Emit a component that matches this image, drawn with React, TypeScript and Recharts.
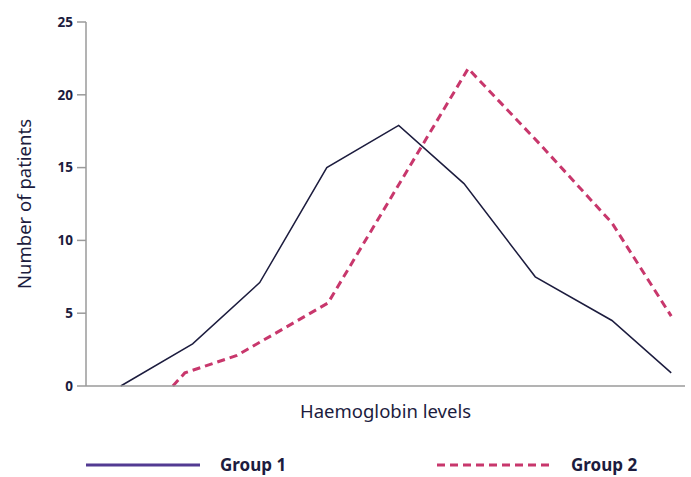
import React from "react";
import { LineChart, Line, XAxis, YAxis } from "recharts";

// x = position along the haemoglobin scale (0-100), y = number of patients
const group1X = [5.8, 17.8, 29, 40.2, 52.2, 63.1, 75, 87.8, 97.7];
const group1Y = [0, 2.9, 7.1, 15, 17.9, 13.9, 7.5, 4.5, 0.9];

const group2X = [14.5, 16.5, 25.2, 40.4, 63.8, 75.8, 87.8, 97.7];
const group2Y = [0, 0.9, 2.1, 5.7, 21.8, 16.6, 11.2, 4.8];

const yTicks = [0, 5, 10, 15, 20, 25];

const group1 = group1X.map((x, i) => ({ x, y: group1Y[i] }));
const group2 = group2X.map((x, i) => ({ x, y: group2Y[i] }));

const NAVY = "#1c1c3e";
const PINK = "#c8376c";
const LEGEND_PURPLE = "#523a92";
const AXIS = "#9a9a9a";
const FONT = "'Noto Sans', 'Open Sans', sans-serif";

const legendText: React.CSSProperties = {
    position: "absolute",
    top: 0,
    fontFamily: FONT,
    fontWeight: 700,
    fontSize: 17,
    color: NAVY,
    lineHeight: "30px",
};

function ChartLegend() {
    return (
        <div style={{ position: "absolute", left: 0, top: 450, width: 691, height: 30 }}>
            <svg
                width={691}
                height={30}
                style={{ position: "absolute", left: 0, top: 0 }}
            >
                <line x1={86} x2={200} y1={15} y2={15} stroke={LEGEND_PURPLE} strokeWidth={3} />
                <line
                    x1={437}
                    x2={553}
                    y1={15}
                    y2={15}
                    stroke={PINK}
                    strokeWidth={3}
                    strokeDasharray="8 5"
                />
            </svg>
            <span style={{ ...legendText, left: 220 }}>Group 1</span>
            <span style={{ ...legendText, left: 571 }}>Group 2</span>
        </div>
    );
}

export default function App() {
    return (
        <div
            style={{
                position: "absolute",
                left: 0,
                top: 0,
                width: 691,
                height: 477,
                background: "#fff",
            }}
        >
            <LineChart
                width={691}
                height={477}
                margin={{ top: 22, right: 6, bottom: 51, left: 26 }}
            >
                <XAxis
                    type="number"
                    dataKey="x"
                    domain={[0, 100]}
                    allowDataOverflow
                    tick={false}
                    tickLine={false}
                    axisLine={{ stroke: AXIS, strokeWidth: 1.5 }}
                    height={40}
                    label={{
                        value: "Haemoglobin levels",
                        position: "insideBottom",
                        offset: 2,
                        dy: -6,
                        style: { fontFamily: FONT, fontSize: 18.5, fill: NAVY },
                    }}
                />
                <YAxis
                    type="number"
                    dataKey="y"
                    domain={[0, 25]}
                    ticks={yTicks}
                    width={60}
                    tickSize={9}
                    tickMargin={4}
                    tickLine={{ stroke: AXIS, strokeWidth: 1.5 }}
                    axisLine={{ stroke: AXIS, strokeWidth: 1.5 }}
                    tick={{
                        fontFamily: FONT,
                        fontSize: 13.5,
                        fontWeight: 700,
                        fill: NAVY,
                    }}
                    label={{
                        value: "Number of patients",
                        angle: -90,
                        position: "insideLeft",
                        offset: 0,
                        dx: -2,
                        style: {
                            fontFamily: FONT,
                            fontSize: 18.5,
                            fill: NAVY,
                            textAnchor: "middle",
                        },
                    }}
                />
                <Line
                    data={group1}
                    dataKey="y"
                    name="Group 1"
                    type="linear"
                    stroke={NAVY}
                    strokeWidth={1.5}
                    dot={false}
                    activeDot={false}
                    isAnimationActive={false}
                />
                <Line
                    data={group2}
                    dataKey="y"
                    name="Group 2"
                    type="linear"
                    stroke={PINK}
                    strokeWidth={3}
                    strokeDasharray="8 5"
                    dot={false}
                    activeDot={false}
                    isAnimationActive={false}
                />
            </LineChart>
            <ChartLegend />
        </div>
    );
}
